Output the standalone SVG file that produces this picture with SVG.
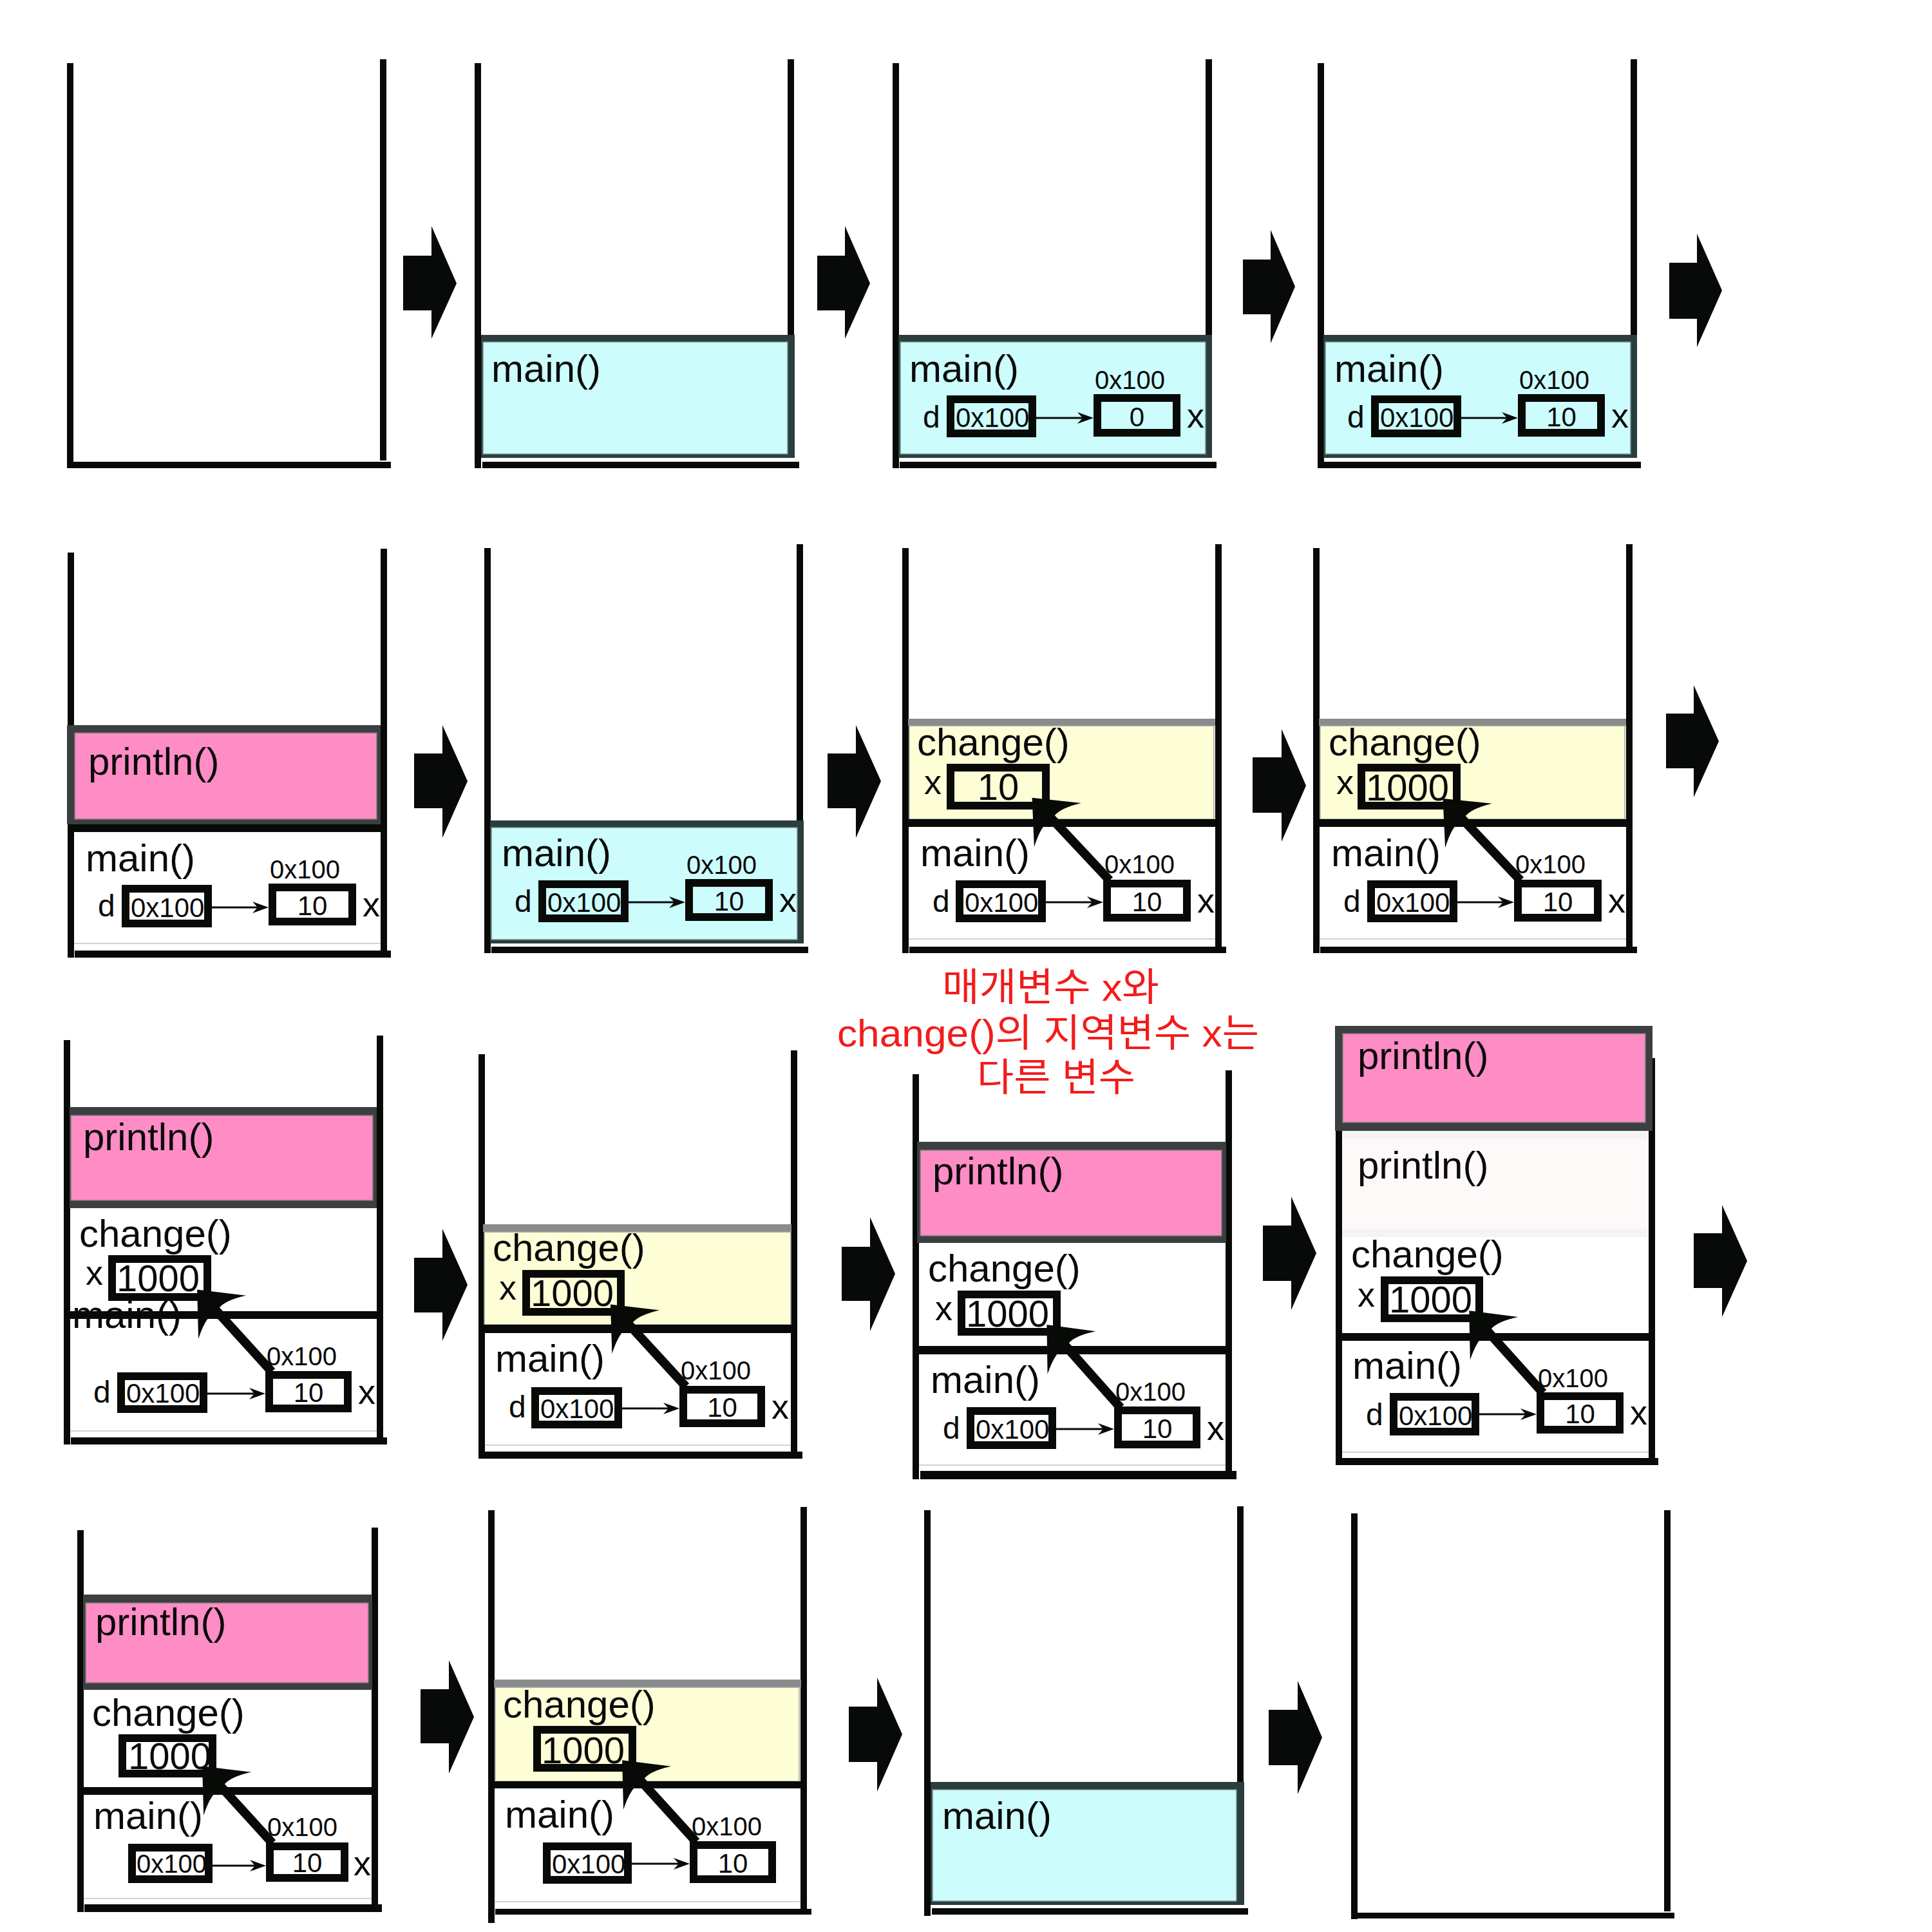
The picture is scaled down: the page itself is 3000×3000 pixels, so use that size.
<svg xmlns="http://www.w3.org/2000/svg" width="3000" height="3000" viewBox="0 0 3000 3000">
<style>
.wall{fill:#080a08}
.t{font-family:"Liberation Sans",Arial,sans-serif;fill:#0a0a0a}
.lbl{font-size:60px}
.addr{font-size:40px}
.val{font-size:42px}
.dl{font-size:48px}
.xl{font-size:54px}
.cv{font-size:58px}
.mid{text-anchor:middle}
.box{fill:none;stroke:#080a08;stroke-width:12}
.ptr{stroke:#080a08;stroke-width:3;marker-end:url(#sm)}
.big{stroke:#080a08;stroke-width:14;marker-end:url(#bh)}
.blk{fill:#070a08}
.cyo{fill:#2b3d3d}
.cyi{fill:#ccfcfc;stroke:#7a8f8f;stroke-width:1.5}
.pko{fill:#3b3f3f}
.pki{fill:#fe8cc5;stroke:#7a7a7a;stroke-width:1.5}
.yb{fill:#8a8c8c}
.yi{fill:#fefed6;stroke:#a0a0a0;stroke-width:1.5}
.band{fill:#080a08}
.gl{stroke:#c4c4c4;stroke-width:1.5}
.red{font-family:"Liberation Sans","Noto Sans CJK KR",sans-serif;font-size:60px;fill:#f21c1c}
</style>
<defs>
<marker id="sm" markerUnits="userSpaceOnUse" orient="auto" refX="0" refY="0" markerWidth="40" markerHeight="40" overflow="visible"><path d="M15,0 L-10,-9 L-2,0 L-10,9 Z" fill="#080a08"/></marker>
<marker id="bh" markerUnits="userSpaceOnUse" orient="auto" refX="0" refY="0" markerWidth="120" markerHeight="120" overflow="visible"><path d="M40,0 L-18,-50 Q-2,-22 -4,-7 L-4,7 Q-2,22 -18,50 Z" fill="#080a08"/></marker>
</defs>
<rect x="0" y="0" width="3000" height="3000" fill="#ffffff"/>

<!-- Row 1 -->
<g id="r1p1">
<rect class="wall" x="104" y="98" width="10" height="629"/>
<rect class="wall" x="590" y="92" width="10" height="623"/>
<rect class="wall" x="114" y="717" width="493" height="10"/>
</g>
<g id="r1p2">
<rect class="wall" x="737" y="98" width="10" height="629"/>
<rect class="wall" x="1223" y="92" width="10" height="428"/>
<rect class="cyo" x="747" y="520" width="487" height="191"/>
<rect class="cyi" x="750" y="531" width="473" height="174"/>
<rect class="wall" x="749" y="717" width="492" height="10"/>
<text class="t lbl" x="763" y="593">main()</text>
</g>
<g id="r1p3">
<rect class="wall" x="1386" y="98" width="10" height="629"/>
<rect class="wall" x="1872" y="92" width="10" height="428"/>
<rect class="cyo" x="1395" y="520" width="487" height="191"/>
<rect class="cyi" x="1398" y="531" width="474" height="174"/>
<rect class="wall" x="1397" y="717" width="492" height="10"/>
<text class="t lbl" x="1412" y="593">main()</text>
<text class="t addr" x="1700" y="604">0x100</text>
<text class="t dl" x="1433" y="664">d</text>
<rect class="box" x="1476" y="620" width="127" height="53"/>
<text class="t val" x="1484" y="663">0x100</text>
<rect class="box" x="1704" y="618" width="123" height="54"/>
<text class="t val mid" x="1765.5" y="662">0</text>
<text class="t xl" x="1843" y="664">x</text>
</g>
<g id="r1p4">
<rect class="wall" x="2046" y="98" width="10" height="629"/>
<rect class="wall" x="2532" y="92" width="10" height="428"/>
<rect class="cyo" x="2055" y="520" width="487" height="191"/>
<rect class="cyi" x="2058" y="531" width="474" height="174"/>
<rect class="wall" x="2056" y="717" width="492" height="10"/>
<text class="t lbl" x="2072" y="593">main()</text>
<text class="t addr" x="2359" y="604">0x100</text>
<text class="t dl" x="2092" y="664">d</text>
<rect class="box" x="2135" y="620" width="128" height="53"/>
<text class="t val" x="2143" y="663">0x100</text>
<rect class="box" x="2363" y="618" width="123" height="54"/>
<text class="t val mid" x="2424.5" y="662">10</text>
<text class="t xl" x="2502" y="664">x</text>
</g>

<!-- Row 2 -->
<g id="r2p1">
<rect class="wall" x="105" y="858" width="10" height="629"/>
<rect class="wall" x="591" y="852" width="10" height="624"/>
<rect class="pko" x="104" y="1126" width="487" height="154"/>
<rect class="pki" x="116" y="1138" width="469" height="134"/>
<rect class="band" x="105" y="1280" width="496" height="12"/>
<line class="gl" x1="115" y1="1465" x2="591" y2="1465"/>
<rect class="wall" x="116" y="1476" width="491" height="11"/>
<text class="t lbl" x="137" y="1203">println()</text>
<text class="t lbl" x="133" y="1353">main()</text>
<text class="t addr" x="419" y="1364">0x100</text>
<text class="t dl" x="152" y="1423">d</text>
<rect class="box" x="195" y="1380" width="128" height="54"/>
<text class="t val" x="203" y="1424">0x100</text>
<rect class="box" x="423" y="1378" width="124" height="53"/>
<text class="t val mid" x="485" y="1421">10</text>
<text class="t xl" x="563" y="1423">x</text>
</g>
<g id="r2p2">
<rect class="wall" x="752" y="851" width="10" height="629"/>
<rect class="wall" x="1237" y="845" width="10" height="429"/>
<rect class="cyo" x="761" y="1274" width="487" height="191"/>
<rect class="cyi" x="763" y="1285" width="475" height="174"/>
<rect class="wall" x="763" y="1470" width="492" height="10"/>
<text class="t lbl" x="779" y="1345">main()</text>
<text class="t addr" x="1066" y="1357">0x100</text>
<text class="t dl" x="799" y="1416">d</text>
<rect class="box" x="842" y="1373" width="128" height="53"/>
<text class="t val" x="850" y="1416">0x100</text>
<rect class="box" x="1070" y="1371" width="124" height="53"/>
<text class="t val mid" x="1132" y="1414">10</text>
<text class="t xl" x="1210" y="1416">x</text>
</g>
<g id="r2p3">
<rect class="wall" x="1401" y="851" width="10" height="629"/>
<rect class="wall" x="1887" y="845" width="10" height="625"/>
<rect class="yb" x="1410" y="1116" width="477" height="11"/>
<rect class="yi" x="1412" y="1127" width="473" height="145"/>
<rect class="band" x="1406" y="1272" width="491" height="12"/>
<line class="gl" x1="1411" y1="1458" x2="1887" y2="1458"/>
<rect class="wall" x="1412" y="1470" width="492" height="10"/>
<text class="t lbl" x="1424" y="1173">change()</text>
<text class="t xl" x="1435" y="1233">x</text>
<rect class="box" x="1476" y="1192" width="148" height="59"/>
<text class="t cv mid" x="1550" y="1242">10</text>
<text class="t lbl" x="1429" y="1345">main()</text>
<text class="t addr" x="1715" y="1356">0x100</text>
<text class="t dl" x="1448" y="1416">d</text>
<rect class="box" x="1490" y="1373" width="128" height="53"/>
<text class="t val" x="1498" y="1416">0x100</text>
<rect class="box" x="1719" y="1372" width="124" height="53"/>
<text class="t val mid" x="1781" y="1415">10</text>
<text class="t xl" x="1859" y="1417">x</text>
</g>
<g id="r2p4">
<rect class="wall" x="2039" y="851" width="10" height="629"/>
<rect class="wall" x="2525" y="845" width="10" height="625"/>
<rect class="yb" x="2048" y="1116" width="477" height="11"/>
<rect class="yi" x="2050" y="1127" width="473" height="145"/>
<rect class="band" x="2044" y="1272" width="491" height="12"/>
<line class="gl" x1="2049" y1="1458" x2="2525" y2="1458"/>
<rect class="wall" x="2050" y="1470" width="492" height="10"/>
<text class="t lbl" x="2063" y="1173">change()</text>
<text class="t xl" x="2075" y="1233">x</text>
<rect class="box" x="2114" y="1192" width="148" height="59"/>
<text class="t cv" x="2121" y="1243">1000</text>
<text class="t lbl" x="2067" y="1345">main()</text>
<text class="t addr" x="2353" y="1356">0x100</text>
<text class="t dl" x="2086" y="1416">d</text>
<rect class="box" x="2129" y="1373" width="128" height="53"/>
<text class="t val" x="2137" y="1416">0x100</text>
<rect class="box" x="2357" y="1372" width="124" height="53"/>
<text class="t val mid" x="2419" y="1415">10</text>
<text class="t xl" x="2497" y="1417">x</text>
</g>

<!-- Row 3 -->
<g id="r3p1">
<rect class="wall" x="99" y="1615" width="10" height="628"/>
<rect class="wall" x="585" y="1608" width="10" height="624"/>
<rect class="pko" x="108" y="1719" width="477" height="157"/>
<rect class="pki" x="110" y="1732" width="469" height="132"/>
<text class="t lbl" x="112" y="2062">main()</text>
<rect class="band" x="104" y="2036" width="491" height="12"/>
<line class="gl" x1="109" y1="2222" x2="585" y2="2222"/>
<rect class="wall" x="110" y="2232" width="491" height="11"/>
<text class="t lbl" x="129" y="1786">println()</text>
<text class="t lbl" x="123" y="1936">change()</text>
<text class="t xl" x="133" y="1995">x</text>
<rect class="box" x="174" y="1955" width="148" height="59"/>
<text class="t cv" x="181" y="2005">1000</text>
<text class="t addr" x="414" y="2120">0x100</text>
<text class="t dl" x="145" y="2178">d</text>
<rect class="box" x="188" y="2137" width="128" height="51"/>
<text class="t val" x="196" y="2178">0x100</text>
<rect class="box" x="418" y="2135" width="122" height="52"/>
<text class="t val mid" x="479" y="2177">10</text>
<text class="t xl" x="556" y="2180">x</text>
</g>
<g id="r3p2">
<rect class="wall" x="743" y="1637" width="10" height="628"/>
<rect class="wall" x="1228" y="1631" width="10" height="623"/>
<rect class="yb" x="750" y="1901" width="479" height="12"/>
<rect class="yi" x="752" y="1913" width="476" height="144"/>
<rect class="band" x="748" y="2057" width="490" height="13"/>
<line class="gl" x1="753" y1="2244" x2="1228" y2="2244"/>
<rect class="wall" x="753" y="2254" width="493" height="11"/>
<text class="t lbl" x="765" y="1958">change()</text>
<text class="t xl" x="775" y="2018">x</text>
<rect class="box" x="817" y="1978" width="147" height="59"/>
<text class="t cv" x="824" y="2028">1000</text>
<text class="t lbl" x="769" y="2130">main()</text>
<text class="t addr" x="1057" y="2142">0x100</text>
<text class="t dl" x="790" y="2201">d</text>
<rect class="box" x="831" y="2160" width="129" height="52"/>
<text class="t val" x="839" y="2202">0x100</text>
<rect class="box" x="1061" y="2158" width="121" height="52"/>
<text class="t val mid" x="1121.5" y="2200">10</text>
<text class="t xl" x="1198" y="2203">x</text>
</g>
<g id="r3p3">
<rect class="wall" x="1417" y="1668" width="10" height="629"/>
<rect class="wall" x="1903" y="1662" width="10" height="622"/>
<rect class="pko" x="1424" y="1773" width="480" height="157"/>
<rect class="pki" x="1429" y="1786" width="468" height="133"/>
<rect class="band" x="1422" y="2090" width="491" height="13"/>
<line class="gl" x1="1427" y1="2275" x2="1903" y2="2275"/>
<rect class="wall" x="1429" y="2284" width="491" height="13"/>
<text class="t lbl" x="1448" y="1839">println()</text>
<text class="t lbl" x="1441" y="1990">change()</text>
<text class="t xl" x="1452" y="2050">x</text>
<rect class="box" x="1493" y="2010" width="148" height="58"/>
<text class="t cv" x="1500" y="2060">1000</text>
<text class="t lbl" x="1445" y="2163">main()</text>
<text class="t addr" x="1732" y="2175">0x100</text>
<text class="t dl" x="1464" y="2234">d</text>
<rect class="box" x="1507" y="2191" width="127" height="53"/>
<text class="t val" x="1515" y="2234">0x100</text>
<rect class="box" x="1736" y="2190" width="122" height="53"/>
<text class="t val mid" x="1797" y="2233">10</text>
<text class="t xl" x="1874" y="2236">x</text>
</g>
<g id="r3p4">
<rect class="wall" x="2074" y="1649" width="10" height="626"/>
<rect class="wall" x="2560" y="1643" width="10" height="621"/>
<rect class="pko" x="2073" y="1593" width="493" height="163"/>
<rect class="pki" x="2085" y="1605" width="470" height="138"/>
<rect x="2084" y="1756" width="476" height="165" fill="#fdf9f9"/>
<rect x="2084" y="1756" width="476" height="13" fill="#f4f4f4"/>
<rect x="2084" y="1908" width="476" height="13" fill="#f4f4f4"/>
<rect class="band" x="2079" y="2070" width="491" height="12"/>
<line class="gl" x1="2084" y1="2255" x2="2560" y2="2255"/>
<rect class="wall" x="2084" y="2264" width="491" height="11"/>
<text class="t lbl" x="2108" y="1660">println()</text>
<text class="t lbl" x="2108" y="1830">println()</text>
<text class="t lbl" x="2098" y="1968">change()</text>
<text class="t xl" x="2108" y="2029">x</text>
<rect class="box" x="2150" y="1988" width="147" height="59"/>
<text class="t cv" x="2157" y="2038">1000</text>
<text class="t lbl" x="2100" y="2141">main()</text>
<text class="t addr" x="2388" y="2154">0x100</text>
<text class="t dl" x="2121" y="2213">d</text>
<rect class="box" x="2164" y="2169" width="127" height="54"/>
<text class="t val" x="2172" y="2213">0x100</text>
<rect class="box" x="2392" y="2168" width="123" height="52"/>
<text class="t val mid" x="2453.5" y="2210">10</text>
<text class="t xl" x="2531" y="2212">x</text>
</g>
<g id="note">
<text class="red" x="1463" y="1554" textLength="337" lengthAdjust="spacingAndGlyphs">매개변수 x와</text>
<text class="red" x="1300" y="1625" textLength="655" lengthAdjust="spacingAndGlyphs">change()의 지역변수 x는</text>
<text class="red" x="1517" y="1694" textLength="246" lengthAdjust="spacingAndGlyphs">다른 변수</text>
</g>

<!-- Row 4 -->
<g id="r4p1">
<rect class="wall" x="120" y="2376" width="10" height="593"/>
<rect class="wall" x="577" y="2372" width="10" height="585"/>
<rect class="pko" x="129" y="2476" width="449" height="148"/>
<rect class="pki" x="133" y="2489" width="439" height="124"/>
<rect class="band" x="125" y="2775" width="462" height="12"/>
<line class="gl" x1="130" y1="2948" x2="577" y2="2948"/>
<rect class="wall" x="131" y="2957" width="462" height="12"/>
<text class="t lbl" x="148" y="2539">println()</text>
<text class="t lbl" x="143" y="2680">change()</text>
<rect class="box" x="190" y="2699" width="140" height="55"/>
<text class="t cv" x="199" y="2747">1000</text>
<text class="t lbl" x="145" y="2840">main()</text>
<text class="t addr" x="415" y="2851">0x100</text>
<rect class="box" x="205" y="2869" width="119" height="49"/>
<text class="t" style="font-size:40px" x="212" y="2908">0x100</text>
<rect class="box" x="419" y="2867" width="116" height="49"/>
<text class="t val mid" x="477" y="2907">10</text>
<text class="t xl" x="549" y="2912">x</text>
</g>
<g id="r4p2">
<rect class="wall" x="758" y="2345" width="10" height="641"/>
<rect class="wall" x="1243" y="2340" width="10" height="624"/>
<rect class="yb" x="767" y="2608" width="477" height="12"/>
<rect class="yi" x="769" y="2620" width="472" height="146"/>
<rect class="band" x="763" y="2766" width="490" height="11"/>
<line class="gl" x1="768" y1="2953" x2="1243" y2="2953"/>
<rect class="wall" x="769" y="2964" width="491" height="9"/>
<text class="t lbl" x="781" y="2667">change()</text>
<rect class="box" x="834" y="2686" width="148" height="59"/>
<text class="t cv" x="841" y="2738">1000</text>
<text class="t lbl" x="784" y="2838">main()</text>
<text class="t addr" x="1074" y="2850">0x100</text>
<rect class="box" x="849" y="2867" width="126" height="52"/>
<text class="t val" x="857" y="2909">0x100</text>
<rect class="box" x="1077" y="2865" width="122" height="53"/>
<text class="t val mid" x="1138" y="2908">10</text>
</g>
<g id="r4p3">
<rect class="wall" x="1435" y="2345" width="10" height="630"/>
<rect class="wall" x="1921" y="2339" width="10" height="428"/>
<rect class="cyo" x="1445" y="2767" width="487" height="191"/>
<rect class="cyi" x="1448" y="2779" width="472" height="173"/>
<rect class="wall" x="1447" y="2963" width="491" height="10"/>
<text class="t lbl" x="1463" y="2840">main()</text>
</g>
<g id="r4p4">
<rect class="wall" x="2098" y="2350" width="10" height="630"/>
<rect class="wall" x="2584" y="2345" width="10" height="623"/>
<rect class="wall" x="2108" y="2970" width="492" height="9"/>
</g>

<g id="connectors">
<line class="ptr" x1="1609" y1="649" x2="1683" y2="649"/>
<line class="ptr" x1="2269" y1="649" x2="2342" y2="649"/>
<line class="ptr" x1="329" y1="1409" x2="402" y2="1409"/>
<line class="ptr" x1="976" y1="1401" x2="1049" y2="1401"/>
<line class="ptr" x1="1624" y1="1401" x2="1698" y2="1401"/>
<line class="ptr" x1="2263" y1="1401" x2="2336" y2="1401"/>
<line class="ptr" x1="322" y1="2164" x2="397" y2="2164"/>
<line class="ptr" x1="966" y1="2187" x2="1040" y2="2187"/>
<line class="ptr" x1="1640" y1="2219" x2="1715" y2="2219"/>
<line class="ptr" x1="2297" y1="2196" x2="2371" y2="2196"/>
<line class="ptr" x1="330" y1="2897" x2="398" y2="2897"/>
<line class="ptr" x1="981" y1="2894" x2="1056" y2="2894"/>

<line class="big" x1="1723" y1="1367" x2="1630" y2="1268"/>
<line class="big" x1="2361" y1="1367" x2="2268" y2="1269"/>
<line class="big" x1="422" y1="2130" x2="333" y2="2032"/>
<line class="big" x1="1065" y1="2153" x2="975" y2="2055"/>
<line class="big" x1="1740" y1="2186" x2="1652" y2="2087"/>
<line class="big" x1="2396" y1="2163" x2="2308" y2="2065"/>
<line class="big" x1="423" y1="2862" x2="341" y2="2772"/>
<line class="big" x1="1081" y1="2860" x2="993" y2="2763"/>

<path class="blk" d="M626,397 L670,397 L670,351 L709,440 L670,526 L670,482 L626,482 Z"/>
<path class="blk" d="M1269,397 L1312,397 L1312,351 L1351,440 L1312,526 L1312,482 L1269,482 Z"/>
<path class="blk" d="M1930,403 L1973,403 L1973,357 L2011,445 L1973,533 L1973,488 L1930,488 Z"/>
<path class="blk" d="M2592,408 L2635,408 L2635,363 L2674,451 L2635,539 L2635,495 L2592,495 Z"/>
<path class="blk" d="M643,1170 L687,1170 L687,1126 L726,1213 L687,1301 L687,1255 L643,1255 Z"/>
<path class="blk" d="M1285,1170 L1329,1170 L1329,1126 L1368,1213 L1329,1301 L1329,1255 L1285,1255 Z"/>
<path class="blk" d="M1945,1176 L1990,1176 L1990,1132 L2028,1220 L1990,1307 L1990,1262 L1945,1262 Z"/>
<path class="blk" d="M2587,1108 L2630,1108 L2630,1064 L2669,1151 L2630,1238 L2630,1193 L2587,1193 Z"/>
<path class="blk" d="M643,1953 L687,1953 L687,1908 L726,1995 L687,2082 L687,2038 L643,2038 Z"/>
<path class="blk" d="M1307,1936 L1351,1936 L1351,1890 L1390,1978 L1351,2067 L1351,2020 L1307,2020 Z"/>
<path class="blk" d="M1961,1903 L2005,1903 L2005,1858 L2044,1946 L2005,2034 L2005,1989 L1961,1989 Z"/>
<path class="blk" d="M2630,1915 L2674,1915 L2674,1871 L2713,1958 L2674,2045 L2674,2000 L2630,2000 Z"/>
<path class="blk" d="M653,2623 L697,2623 L697,2578 L736,2666 L697,2754 L697,2707 L653,2707 Z"/>
<path class="blk" d="M1318,2650 L1362,2650 L1362,2605 L1401,2693 L1362,2782 L1362,2736 L1318,2736 Z"/>
<path class="blk" d="M1970,2655 L2015,2655 L2015,2610 L2053,2698 L2015,2786 L2015,2741 L1970,2741 Z"/>
</g>
</svg>
